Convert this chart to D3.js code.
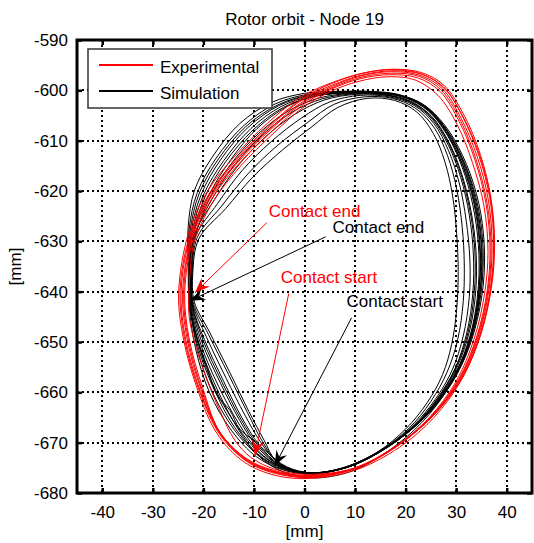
<!DOCTYPE html>
<html>
<head>
<meta charset="utf-8">
<script src="https://cdn.jsdelivr.net/npm/d3@7"></script>
<style>
    body { margin: 0; background: #fff; }
    text { font-family: "Liberation Sans", Arial, sans-serif; }
</style>
</head>
<body>
<div id="wrapper"></div>
<script>
// axis ticks
const xTicks = [-40, -30, -20, -10, 0, 10, 20, 30, 40];
const yTicks = [-680, -670, -660, -650, -640, -630, -620, -610, -600, -590];
const xDomain = [-45, 45];
const yDomain = [-680, -590];

const legendLabels = ["Experimental", "Simulation"];

// experimental orbits [x mm, y mm]
const orbitsExperimental = [
    [[-22.6,-628.5],[-18.9,-620.6],[-13.5,-613.6],[-7,-607],[-0.4,-601.6],[5.5,-598.6],[11.5,-596.6],[17.5,-595.8],[23.2,-596.5],[27.6,-599],[31.6,-605],[34.8,-612.8],[36.9,-621.5],[37.6,-630.5],[37,-639],[35,-648],[31.3,-657],[25.8,-664.3],[19.2,-670],[10.8,-674.8],[1.8,-676.9],[-5,-676.3],[-11,-674],[-16.6,-668.6],[-20.7,-660],[-23.7,-649.5],[-24.6,-639.5]],
    [[-22.3,-629],[-18.6,-621],[-13.2,-614],[-6.8,-607.6],[-0.3,-602.2],[5.5,-599.2],[11.3,-597.1],[17.2,-596.3],[22.8,-597],[27.2,-599.6],[31,-605.6],[34.2,-613.3],[36.4,-622],[37.1,-631],[36.5,-639.5],[34.5,-648.5],[30.9,-657.2],[25.4,-664.6],[18.9,-670.3],[10.5,-675],[1.5,-676.7],[-5.2,-676],[-11.2,-673.6],[-16.6,-668.2],[-20.4,-659.6],[-23.2,-649.5],[-24.1,-640]],
    [[-22,-629.5],[-18.3,-621.5],[-12.9,-614.5],[-6.5,-608.2],[-0.2,-602.8],[5.2,-599.8],[11,-597.7],[16.8,-596.9],[22.3,-597.5],[26.8,-600.2],[30.6,-606.2],[33.7,-613.8],[35.9,-622.5],[36.7,-631.5],[36.1,-640],[34.1,-648.8],[30.5,-657.4],[25,-664.8],[18.5,-670.5],[10.1,-675],[1.1,-676.5],[-5.4,-675.7],[-11.4,-673.2],[-16.8,-667.8],[-20.1,-659.2],[-22.8,-649.4],[-23.7,-640.3]],
    [[-22.9,-628.2],[-19.3,-620.2],[-13.9,-613.2],[-7.4,-606.6],[-0.7,-601.3],[5.9,-598.3],[12,-596.5],[18,-595.9],[23.6,-596.9],[28,-600],[31.9,-606.3],[35,-614],[37,-622.8],[37.5,-631.8],[36.7,-640.3],[34.7,-649],[31,-657.6],[25.6,-665],[18.8,-670.9],[10.2,-675.4],[1.2,-677.1],[-5.8,-676.5],[-12,-673.8],[-17.3,-668.2],[-21.1,-659.6],[-23.9,-649.6],[-24.9,-640.3]],
    [[-21.8,-630],[-18,-622],[-12.6,-615],[-6.2,-608.6],[0,-603.2],[5.2,-600.2],[10.8,-598.2],[16.5,-597.3],[22,-598],[26.4,-601],[30.2,-606.8],[33.2,-614.3],[35.5,-623],[36.3,-632],[35.6,-640.5],[33.6,-649.2],[30,-657.8],[24.6,-665.1],[18,-670.7],[9.6,-675.1],[0.6,-676.3],[-5.5,-675.4],[-10.5,-673],[-13.8,-669.5],[-16.8,-663.5],[-20.2,-655],[-22.8,-645],[-22.6,-636]],
    [[-22.5,-628.8],[-18.8,-620.8],[-13.4,-613.8],[-7,-607.3],[-0.5,-601.9],[5.6,-598.9],[11.6,-596.9],[17.6,-596.1],[23.1,-596.8],[27.5,-599.3],[31.3,-605.3],[34.5,-613],[36.7,-621.7],[37.4,-630.7],[36.8,-639.2],[34.8,-648.2],[31.1,-657.1],[25.6,-664.5],[19,-670.1],[10.6,-674.9],[1.6,-676.8],[-5.1,-676.1],[-11.1,-673.8],[-16.6,-668.4],[-20.6,-659.8],[-23.5,-649.5],[-24.4,-639.8]],
    [[-22.2,-629.2],[-18.5,-621.2],[-13.1,-614.2],[-6.7,-607.8],[-0.3,-602.5],[5.4,-599.5],[11.2,-597.4],[17,-596.6],[22.6,-597.2],[27,-599.9],[30.8,-605.9],[33.9,-613.6],[36.1,-622.3],[36.9,-631.3],[36.3,-639.8],[34.3,-648.6],[30.7,-657.3],[25.2,-664.7],[18.7,-670.4],[10.3,-675],[1.3,-676.6],[-5.3,-675.9],[-11.3,-673.4],[-16.7,-668],[-20.3,-659.4],[-23,-649.4],[-23.9,-640.2]]
];

// simulated orbits [x mm, y mm]
const orbitsSimulation = [
    [[-23,-627],[-21.8,-620],[-18.2,-613.2],[-12.8,-606.6],[-6.5,-602.4],[0,-600.6],[7,-600.2],[13,-600.2],[18.5,-600.8],[23.5,-602.8],[27.8,-607],[31.3,-613],[34,-620.5],[35.4,-628.5],[35.5,-637],[34.2,-645.5],[31.8,-653],[28.3,-659.5],[23.5,-665.3],[17,-670.5],[9.5,-674.5],[2,-676.2],[-4,-675.5],[-9.5,-672.8],[-14.5,-667.5],[-18.8,-660],[-21.5,-651.5],[-22.8,-643],[-23,-635]],
    [[-22.8,-627.5],[-21.2,-620.3],[-17.5,-613.5],[-12,-607],[-5.8,-602.7],[0.6,-600.8],[7.5,-600.3],[13.5,-600.3],[19,-601],[24,-603.2],[28,-607.6],[31.4,-613.8],[33.9,-621.2],[35.2,-629.2],[35.2,-637.5],[33.9,-646],[31.5,-653.5],[28,-659.8],[23.2,-665.5],[16.8,-670.7],[9.2,-674.6],[1.8,-676],[-4.2,-675.3],[-9.2,-672.5],[-14,-667.3],[-18.3,-659.8],[-21.2,-651.3],[-22.6,-642.8],[-22.8,-635]],
    [[-22.4,-628],[-20.4,-620.6],[-16.6,-613.8],[-11.2,-607.4],[-5,-603],[1.2,-601],[8,-600.4],[14,-600.4],[19.5,-601.2],[24.3,-603.6],[28.2,-608.2],[31.4,-614.5],[33.7,-622],[34.9,-630],[34.9,-638],[33.6,-646.5],[31.2,-653.8],[27.7,-660],[22.9,-665.7],[16.5,-670.8],[9,-674.6],[1.6,-676],[-4.4,-675],[-9,-672],[-13.3,-666.8],[-17.6,-659.5],[-20.8,-651],[-22.5,-643],[-22.6,-635.2]],
    [[-22,-628.5],[-19.6,-621],[-15.6,-614.2],[-10.2,-607.9],[-4.2,-603.4],[2,-601.2],[8.8,-600.5],[14.8,-600.6],[20,-601.5],[24.6,-604.2],[28.3,-609],[31.2,-615.3],[33.3,-622.8],[34.4,-630.8],[34.4,-638.8],[33.2,-647],[30.8,-654.2],[27.3,-660.3],[22.6,-666],[16.2,-671],[8.8,-674.8],[1.4,-676],[-4.6,-674.8],[-9.2,-671.6],[-13,-666.2],[-17,-658.8],[-20.5,-650.5],[-22.4,-643],[-22.3,-635.5]],
    [[-21.6,-629],[-18.8,-621.5],[-14.6,-614.7],[-9,-608.5],[-3,-604],[3,-601.5],[9.5,-600.6],[15.5,-600.8],[20.6,-602],[25,-605],[28.4,-610],[31,-616.3],[32.9,-623.8],[33.9,-631.6],[33.9,-639.5],[32.7,-647.6],[30.3,-654.7],[26.8,-660.8],[22.2,-666.3],[15.8,-671.2],[8.4,-674.9],[1.1,-676],[-4.8,-674.6],[-9.2,-671],[-12.8,-665.6],[-16.6,-658.2],[-20.3,-650],[-22.3,-642.8],[-22.5,-635.6]],
    [[-21.8,-628.8],[-18,-622],[-13.4,-615.3],[-7.8,-609.3],[-1.8,-604.7],[4,-601.9],[10.2,-600.8],[16.2,-601],[21.2,-602.5],[25.3,-605.8],[28.5,-611],[30.9,-617.3],[32.6,-624.8],[33.4,-632.5],[33.3,-640.3],[32.1,-648.2],[29.8,-655.2],[26.3,-661.2],[21.7,-666.6],[15.4,-671.4],[8,-675],[0.8,-676],[-5,-674.3],[-9,-670.4],[-12.4,-665],[-16,-657.8],[-19.8,-649.5],[-22.2,-642.6],[-22.4,-635.8]],
    [[-21.5,-629],[-17.2,-622.5],[-12.4,-616],[-6.6,-610.2],[-0.6,-605.5],[5,-602.3],[11,-601],[16.8,-601.3],[21.7,-603],[25.6,-606.6],[28.5,-612],[30.6,-618.4],[32,-626],[32.7,-633.5],[32.6,-641],[31.4,-648.8],[29.2,-655.6],[25.8,-661.5],[21.2,-666.9],[15,-671.6],[7.6,-675],[0.5,-676],[-5.2,-674],[-8.6,-670],[-11.8,-664.5],[-15.5,-657.2],[-19.4,-649],[-22.1,-642.4],[-22.3,-636]],
    [[-21.2,-629.2],[-16.4,-623],[-11.2,-616.6],[-5.4,-611],[0.6,-606.4],[5.8,-602.8],[11.8,-601.3],[17.4,-601.6],[22,-603.6],[25.7,-607.5],[28.3,-613],[30.1,-619.6],[31.2,-627.2],[31.6,-634.5],[31.4,-642],[30.3,-649.5],[28.2,-656],[25,-661.8],[20.6,-667.2],[14.6,-671.8],[7.2,-675.1],[0.2,-676],[-5.4,-673.8],[-8.3,-669.8],[-11.3,-664],[-15,-656.5],[-19,-648.5],[-22,-642.2],[-22.2,-636.2]],
    [[-20.9,-629.5],[-15.6,-623.5],[-10.2,-617.2],[-4.3,-611.8],[1.5,-607.2],[6.6,-603.4],[12.4,-601.6],[17.8,-602],[22.2,-604.3],[25.5,-608.6],[27.8,-614.3],[29.3,-621],[30.1,-628.5],[30.4,-636],[30.1,-643.5],[29.1,-650.5],[27.3,-656.5],[24.3,-662],[20,-667.3],[14.2,-672],[6.8,-675.3],[0,-676.2],[-5.6,-673.6],[-8,-669.5],[-11,-663.8],[-14.8,-656],[-18.8,-648],[-21.8,-642],[-22.1,-636.4]],
    [[-21.8,-628],[-18.8,-620.6],[-14.6,-613.8],[-9.4,-607.6],[-3.4,-603.2],[2.4,-601.1],[8.4,-600.5],[14.4,-600.5],[19.8,-601.4],[24.5,-604],[28.3,-608.8],[31.3,-615],[33.5,-622.4],[34.6,-630.4],[34.6,-638.4],[33.4,-646.6],[31,-654],[27.5,-660.2],[22.8,-665.8],[16.4,-670.9],[9,-674.7],[1.6,-676],[-3.5,-674.8],[-7.5,-671.8],[-10,-669.6],[-12.8,-667.3],[-14.8,-663.5],[-17.2,-660.7],[-19.2,-655.3],[-21.6,-648.2],[-22.7,-642.2],[-22.4,-635]],
    [[-22.6,-627.8],[-20.8,-620.4],[-17,-613.6],[-11.6,-607.2],[-5.3,-602.9],[1,-600.9],[7.8,-600.3],[13.8,-600.4],[19.2,-601.1],[24.1,-603.4],[28.1,-607.9],[31.4,-614.1],[33.8,-621.6],[35,-629.6],[35,-637.8],[33.7,-646.2],[31.3,-653.6],[27.9,-660],[23.2,-666],[16.8,-671.5],[9.2,-675.7],[1.8,-677],[-4.2,-675.8],[-8.9,-672.8],[-13,-667.5],[-17,-660],[-20.5,-651.4],[-22.7,-643],[-22.8,-635.2]],
    [[-22.2,-628.2],[-20,-620.8],[-16,-614],[-10.6,-607.6],[-4.6,-603.2],[1.6,-601.1],[8.2,-600.5],[14.2,-600.5],[19.6,-601.3],[24.4,-603.8],[28.2,-608.5],[31.3,-614.8],[33.6,-622.2],[34.7,-630.2],[34.7,-638.2],[33.5,-646.6],[31.1,-653.9],[27.6,-660.1],[22.8,-665.8],[16.4,-670.9],[8.9,-674.7],[1.5,-676],[-4.5,-675],[-9.3,-672.2],[-13.8,-667],[-17.8,-659.6],[-21,-651.2],[-22.6,-643],[-22.6,-635.3]],
    [[-21.7,-628.8],[-18.4,-621.8],[-14,-615],[-8.4,-608.9],[-2.4,-604.3],[3.5,-601.7],[9.8,-600.7],[15.8,-600.9],[20.9,-602.2],[25.2,-605.4],[28.5,-610.5],[31,-616.8],[32.8,-624.3],[33.7,-632],[33.6,-639.9],[32.4,-647.9],[30,-655],[26.5,-661],[22,-666.4],[15.6,-671.3],[8.2,-675],[0.9,-676],[-4.9,-674.5],[-9.1,-670.7],[-12.6,-665.3],[-16.3,-658],[-20,-649.8],[-22.2,-642.7],[-22.4,-635.8]]
];

// annotations: label position and arrow (data units)
const notes = [
    {label: "Contact end",   series: "Experimental", at: [-7.06, -625.1], from: [-7.46, -626.3], to: [-21.66, -640.2]},
    {label: "Contact end",   series: "Simulation",   at: [5.56, -628.3],  from: [4.18, -629.1],  to: [-22.64, -641.8]},
    {label: "Contact start", series: "Experimental", at: [-4.7, -638.2],  from: [-3.12, -640.4], to: [-9.82, -672.6]},
    {label: "Contact start", series: "Simulation",   at: [8.32, -643.0],  from: [9.31, -645.2],  to: [-5.88, -674.6]}
];

const colors = {Experimental: "#ff0000", Simulation: "#000000"};

function build() {
    var dimension = {
        width: 534,
        height: 543,
        margin: {top: 40, right: 2, bottom: 50, left: 77}
    };
    dimension.boundedWidth = dimension.width - dimension.margin.left - dimension.margin.right;
    dimension.boundedHeight = dimension.height - dimension.margin.top - dimension.margin.bottom;

    const wrapper = d3.select("#wrapper")
        .append("svg")
        .attr("width", dimension.width)
        .attr("height", dimension.height);

    const bounds = wrapper.append("g")
        .attr("transform", `translate(${dimension.margin.left},${dimension.margin.top})`);

    const x = d3.scaleLinear().domain(xDomain).range([0, dimension.boundedWidth]);
    const y = d3.scaleLinear().domain(yDomain).range([dimension.boundedHeight, 0]);

    // dotted grid, snapped to whole pixels so the dots stay crisp
    const grid = bounds.append("g")
        .attr("stroke", "#000").attr("stroke-width", 2)
        .attr("stroke-dasharray", "2,3").attr("shape-rendering", "crispEdges");
    grid.selectAll(".vx").data(xTicks).join("line")
        .attr("x1", d => Math.round(x(d))).attr("x2", d => Math.round(x(d)))
        .attr("y1", 0).attr("y2", dimension.boundedHeight);
    grid.selectAll(".hy").data(yTicks).join("line")
        .attr("x1", 0).attr("x2", dimension.boundedWidth)
        .attr("y1", d => Math.round(y(d))).attr("y2", d => Math.round(y(d)));

    // orbits
    const line = d3.line()
        .x(d => x(d[0]))
        .y(d => y(d[1]))
        .curve(d3.curveCatmullRomClosed.alpha(0.5));

    bounds.append("g").selectAll("path")
        .data(orbitsSimulation).join("path")
        .attr("d", line)
        .attr("fill", "none")
        .attr("stroke", colors.Simulation)
        .attr("stroke-width", 1);

    bounds.append("g").selectAll("path")
        .data(orbitsExperimental).join("path")
        .attr("d", line)
        .attr("fill", "none")
        .attr("stroke", colors.Experimental)
        .attr("stroke-width", 1);

    // annotations
    function headPoints(n) {
        var x1 = x(n.from[0]), y1 = y(n.from[1]);
        var x2 = x(n.to[0]), y2 = y(n.to[1]);
        var a = Math.atan2(y2 - y1, x2 - x1);
        var L = 15, W = 6, N = 10;
        var bx = x2 - L * Math.cos(a), by = y2 - L * Math.sin(a);
        var nx = x2 - N * Math.cos(a), ny = y2 - N * Math.sin(a);
        var px = -Math.sin(a), py = Math.cos(a);
        return [[x2, y2], [bx + W * px, by + W * py], [nx, ny], [bx - W * px, by - W * py]];
    }

    const ann = bounds.append("g");
    ann.selectAll("line").data(notes).join("line")
        .attr("x1", d => x(d.from[0])).attr("y1", d => y(d.from[1]))
        .attr("x2", d => x(d.to[0])).attr("y2", d => y(d.to[1]))
        .attr("stroke", d => colors[d.series])
        .attr("stroke-width", 1);
    ann.selectAll("polygon").data(notes).join("polygon")
        .attr("points", d => headPoints(d).map(p => p.join(",")).join(" "))
        .attr("fill", d => colors[d.series]);
    ann.selectAll("text").data(notes).join("text")
        .attr("x", d => x(d.at[0]))
        .attr("y", d => y(d.at[1]))
        .text(d => d.label)
        .attr("fill", d => colors[d.series])
        .style("font-size", "17px");

    // axes, ticks pointing inward
    const axisBottom = bounds.append("g")
        .attr("transform", `translate(0,${dimension.boundedHeight})`)
        .call(d3.axisBottom(x).tickValues(xTicks).tickSizeInner(-5).tickSizeOuter(0).tickPadding(13).tickFormat(d => String(d)));
    const axisLeft = bounds.append("g")
        .call(d3.axisLeft(y).tickValues(yTicks).tickSizeInner(-5).tickSizeOuter(0).tickPadding(9).tickFormat(d => String(d)));
    const axisTop = bounds.append("g")
        .call(d3.axisTop(x).tickValues(xTicks).tickSizeInner(-5).tickSizeOuter(0).tickFormat(""));
    const axisRight = bounds.append("g")
        .attr("transform", `translate(${dimension.boundedWidth},0)`)
        .call(d3.axisRight(y).tickValues(yTicks).tickSizeInner(-5).tickSizeOuter(0).tickFormat(""));

    [axisBottom, axisLeft, axisTop, axisRight].forEach(g => {
        g.attr("font-family", null).attr("font-size", null);
        g.selectAll(".tick line").attr("stroke-width", 2.5);
        g.select(".domain").remove();
        g.selectAll("text").style("font-size", "17px").attr("fill", "#000");
    });

    bounds.append("rect")
        .attr("width", dimension.boundedWidth)
        .attr("height", dimension.boundedHeight)
        .attr("fill", "none")
        .attr("stroke", "#000")
        .attr("stroke-width", 3);

    // legend
    const legend = bounds.append("g")
        .attr("transform", `translate(${88 - dimension.margin.left},${49 - dimension.margin.top})`);
    legend.append("rect")
        .attr("width", 184).attr("height", 59)
        .attr("fill", "#fff").attr("stroke", "#333").attr("stroke-width", 1.5);
    const item = legend.selectAll(".item").data(legendLabels).join("g")
        .attr("transform", (d, i) => `translate(0,${16 + i * 26})`);
    item.append("line")
        .attr("x1", 11).attr("x2", 65)
        .attr("stroke", d => colors[d]).attr("stroke-width", 2);
    item.append("text")
        .attr("x", 72).attr("y", 7.5)
        .text(d => d)
        .style("font-size", "17px");

    // labels
    wrapper.append("text")
        .attr("x", dimension.margin.left + dimension.boundedWidth / 2)
        .attr("y", 25)
        .attr("text-anchor", "middle")
        .style("font-size", "17px")
        .text("Rotor orbit - Node 19");
    wrapper.append("text")
        .attr("x", dimension.margin.left + dimension.boundedWidth / 2)
        .attr("y", 537)
        .attr("text-anchor", "middle")
        .style("font-size", "17px")
        .text("[mm]");
    wrapper.append("text")
        .attr("transform", `translate(21,${dimension.margin.top + dimension.boundedHeight / 2}) rotate(-90)`)
        .attr("text-anchor", "middle")
        .style("font-size", "17px")
        .text("[mm]");
}

build();
</script>
</body>
</html>
